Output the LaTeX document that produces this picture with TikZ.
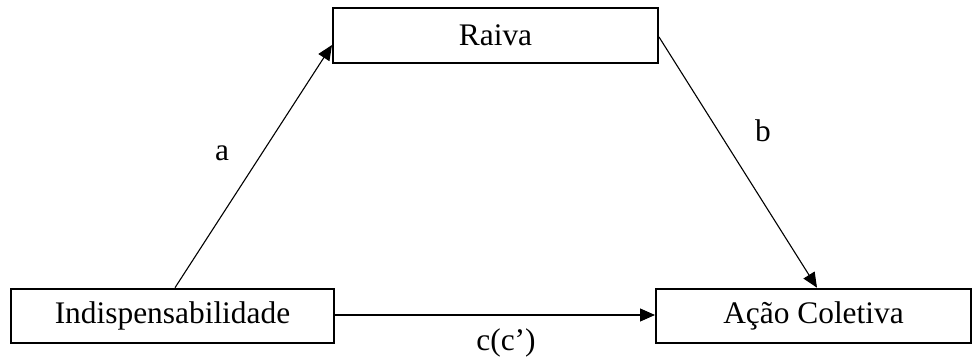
\documentclass[tikz,border=0pt]{standalone}
\usepackage{fontspec}
\setmainfont{Liberation Serif}
\usetikzlibrary{arrows.meta,calc}
\begin{document}
\begin{tikzpicture}[x=0.5pt,y=-0.5pt,
  varbox/.style={draw, line width=1pt, inner sep=0pt, minimum height=27.3pt, font=\fontsize{15.7}{18}\selectfont},
  conn/.style={line width=0.55pt, -{Triangle[length=7.5pt,width=6.5pt]}},
  lbl/.style={font=\fontsize{15.7}{18}\selectfont, inner sep=0pt}]
\useasboundingbox (0,0) rectangle (973,363);
\node[varbox, minimum width=162.5pt] (raiva) at (495.5,35.5) {Raiva};
\node[varbox, minimum width=161.5pt] (ind) at (172.5,316) {Indispensabilidade};
\node[varbox, minimum width=157.5pt] (acao) at (813.5,316) {Ação Coletiva};
\draw[conn] ([xshift=1.25pt]ind.north) -- ([yshift=-4.75pt]raiva.west);
\draw[conn] ([yshift=-0.75pt]raiva.east) -- ([xshift=1.75pt]acao.north);
\draw[conn] ([yshift=0.5pt]ind.east) -- ([yshift=0.5pt]acao.west);
\node[lbl] (la) at (222,153) {a};
\node[lbl] (lb) at (763,131) {b};
\node[lbl] (lc) at (506,343) {c(c’)};
\end{tikzpicture}
\end{document}
